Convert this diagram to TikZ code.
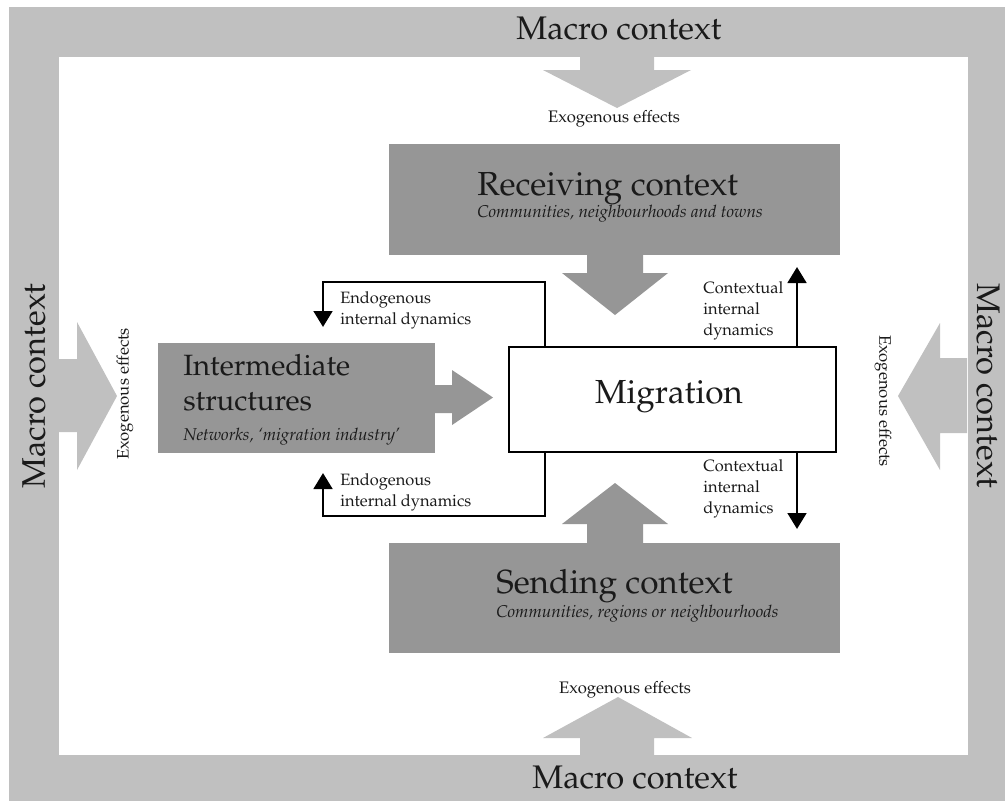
\documentclass[tikz,border=0pt]{standalone}
\usepackage[T1]{fontenc}
\usepackage{mathpazo}
\usetikzlibrary{arrows.meta,calc}
\definecolor{macrogray}{HTML}{C0C0C0}
\definecolor{ctxgray}{HTML}{969696}
\definecolor{ink}{HTML}{1A1A1A}
\begin{document}
\begin{tikzpicture}[x=0.75pt,y=-0.75pt,
  bigtxt/.style={font=\fontsize{24.5}{30}\selectfont, text=ink, inner sep=0pt},
  titletxt/.style={font=\fontsize{25}{30}\selectfont, text=ink, inner sep=0pt},
  intertxt/.style={font=\fontsize{22}{26.25}\selectfont, text=ink, inner sep=0pt, align=left},
  subtxt/.style={font=\itshape\fontsize{12.8}{15}\selectfont, text=ink, inner sep=0pt},
  smalltxt/.style={font=\fontsize{12.3}{15.5}\selectfont, text=ink, inner sep=0pt, align=left},
  exotxt/.style={font=\fontsize{12.5}{15}\selectfont, text=ink, inner sep=0pt},
  ctxbox/.style={fill=ctxgray, draw=none, inner sep=0pt},
  migbox/.style={fill=white, draw=black, line width=2.2pt, inner sep=0pt},
  arr/.style={draw=black, line width=2.1pt, line join=miter, -{Triangle[width=14pt,length=12pt]}}
]
\useasboundingbox (0,0) rectangle (1005,801);
% macro frame
\fill[macrogray] (9,7) rectangle (1005,801);
\fill[white] (59,57) rectangle (968,755);

% macro labels
\node[bigtxt, anchor=base] (mT) at (619,39) {Macro context};
\node[bigtxt, anchor=base] (mB) at (635,788) {Macro context};
\node[bigtxt, rotate=90] (mL) at (34,386) {Macro context};
\node[bigtxt, rotate=-90] (mR) at (988,386) {Macro context};

% macro block arrows
\fill[macrogray] (580,57) -- (654,57) -- (654,70) -- (691,70) -- (617,108) -- (543,70) -- (580,70) -- cycle;
\fill[macrogray] (580,755) -- (654,755) -- (654,738) -- (692,738) -- (618,697) -- (543,738) -- (580,738) -- cycle;
\fill[macrogray] (59,359) -- (77,359) -- (77,322) -- (117,396) -- (77,470) -- (77,432) -- (59,432) -- cycle;
\fill[macrogray] (967,358) -- (940,358) -- (940,323) -- (898,396) -- (940,470) -- (940,433) -- (967,433) -- cycle;

% exogenous labels
\node[exotxt, anchor=base] (xT) at (614,122) {Exogenous effects};
\node[exotxt, anchor=base] (xB) at (625,693) {Exogenous effects};
\node[exotxt, rotate=90] (xL) at (125,394) {Exogenous effects};
\node[exotxt, rotate=-90] (xR) at (883,401) {Exogenous effects};

% context boxes
\node[ctxbox, minimum width=338.25pt, minimum height=83.25pt] (recv) at (614.5,199.5) {};
\node[ctxbox, minimum width=338.25pt, minimum height=82.5pt] (send) at (614.5,598) {};
\node[ctxbox, minimum width=207.75pt, minimum height=82.5pt] (inter) at (296.5,398) {};

\node[titletxt, anchor=base west] (recvT) at (477,195) {Receiving context};
\node[subtxt, anchor=base west] (recvS) at (477,217) {Communities, neighbourhoods and towns};
\node[titletxt, anchor=base west] (sendT) at (496,593) {Sending context};
\node[subtxt, anchor=base west] (sendS) at (496,617) {Communities, regions or neighbourhoods};
\node[intertxt, anchor=base west] (interT) at (183,410) {Intermediate\\structures};
\node[subtxt, anchor=base west] (interS) at (183,440) {Networks, `migration industry'};

% context block arrows
\fill[ctxgray] (587,255) -- (643,255) -- (643,273) -- (668,273) -- (615,315) -- (562,273) -- (587,273) -- cycle;
\fill[ctxgray] (587,543) -- (643,543) -- (643,524) -- (668,524) -- (615,483) -- (562,524) -- (587,524) -- cycle;
\fill[ctxgray] (435,385) -- (452,385) -- (452,370) -- (493,397.5) -- (452,425) -- (452,413) -- (435,413) -- cycle;

% migration
\node[migbox, minimum width=245.25pt, minimum height=78.75pt] (mig) at (672.5,399.5) {};
\node[titletxt, anchor=base] (migT) at (669,403) {Migration};

% endogenous dynamics
\coordinate (ejT) at (545,282);
\coordinate (etipT) at (323,327);
\coordinate (ejB) at (545,516);
\coordinate (etipB) at (323,473);
\draw[arr] (mig.north -| ejT) -- (ejT) -- (etipT |- ejT) -- (etipT);
\draw[arr] (mig.south -| ejB) -- (ejB) -- (etipB |- ejB) -- (etipB);
\node[smalltxt, anchor=base west] (enT) at (340,324) {Endogenous\\internal dynamics};
\node[smalltxt, anchor=base west] (enB) at (340,506) {Endogenous\\internal dynamics};

% contextual dynamics
\coordinate (ctipT) at (797,267);
\coordinate (ctipB) at (797,529);
\draw[arr] (mig.north -| ctipT) -- (ctipT);
\draw[arr] (mig.south -| ctipB) -- (ctipB);
\node[smalltxt, anchor=base west] (cT) at (703,335) {Contextual\\internal\\dynamics};
\node[smalltxt, anchor=base west] (cB) at (703,513) {Contextual\\internal\\dynamics};
\end{tikzpicture}
\end{document}
